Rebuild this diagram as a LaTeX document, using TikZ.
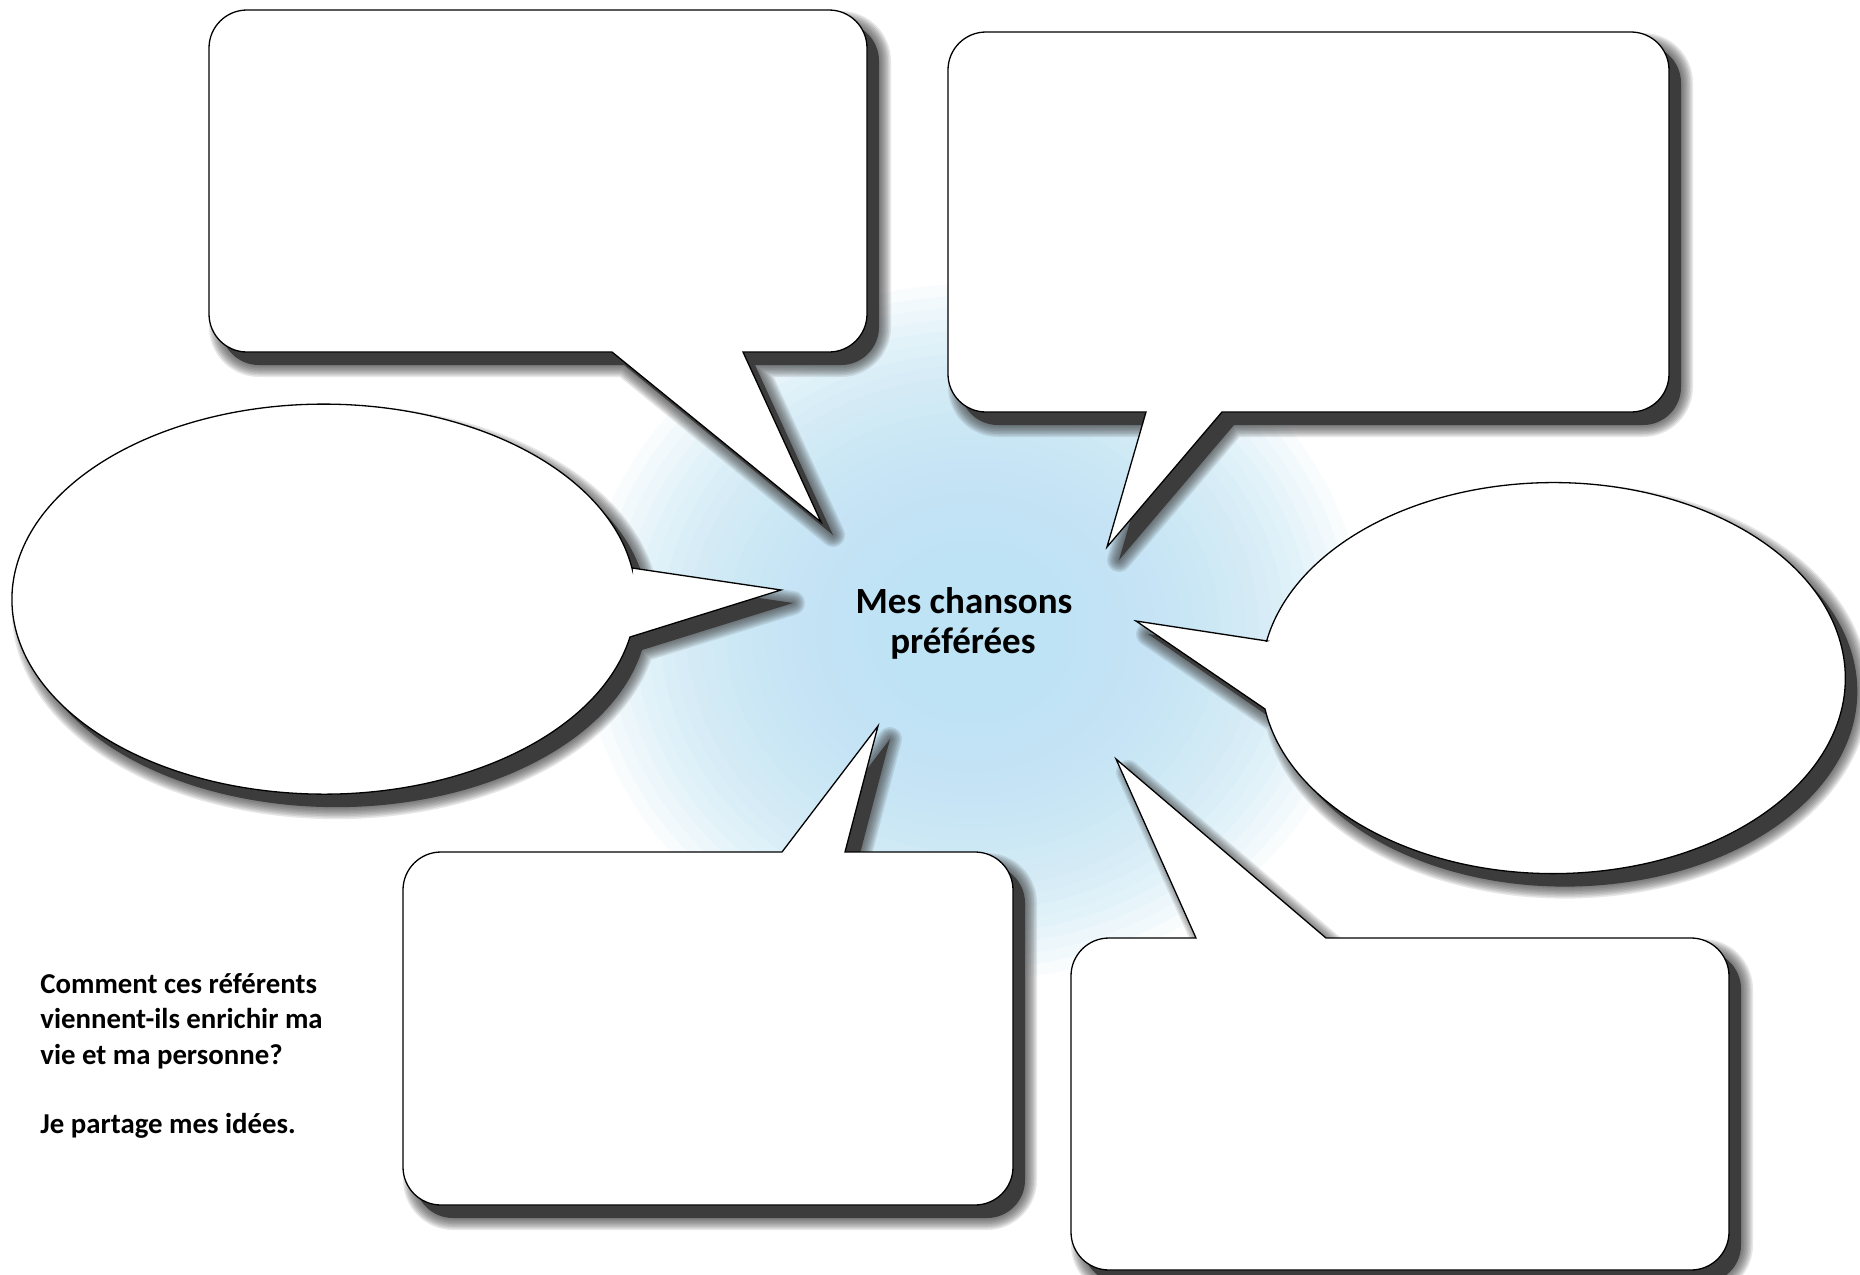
\documentclass[tikz,border=0pt]{standalone}
\usepackage{fontspec}
\setmainfont{Carlito}
\definecolor{glowc}{RGB}{190,227,245}
\definecolor{shadowc}{RGB}{60,60,60}
\tikzset{
  bubble/.style={fill=white, draw=black, line width=0.65pt, line join=miter},
  centertext/.style={anchor=base, inner sep=0pt, font=\bfseries\fontsize{18.5}{20}\selectfont},
  sidetext/.style={anchor=base west, inner sep=0pt, font=\bfseries\fontsize{14.4}{17.5}\selectfont}
}
% outlines of the six bubbles (pixel coordinates, y downwards)
\def\pA{(247,10) -- (829,10) .. controls (850,10) and (867,27) .. (867,48) -- (867,314) .. controls (867,335) and (850,352) .. (829,352) -- (743,352) -- (821,522) -- (612,352) -- (247,352) .. controls (226,352) and (209,335) .. (209,314) -- (209,48) .. controls (209,27) and (226,10) .. (247,10) -- cycle}
\def\pB{(986,32) -- (1631,32) .. controls (1652,32) and (1669,49) .. (1669,70) -- (1669,374) .. controls (1669,395) and (1652,412) .. (1631,412) -- (1222,412) -- (1107,547) -- (1146,412) -- (986,412) .. controls (965,412) and (948,395) .. (948,374) -- (948,70) .. controls (948,49) and (965,32) .. (986,32) -- cycle}
\def\pC{(441,852) -- (782,852) -- (878,726) -- (845,852) -- (975,852) .. controls (996,852) and (1013,869) .. (1013,890) -- (1013,1167) .. controls (1013,1188) and (996,1205) .. (975,1205) -- (441,1205) .. controls (420,1205) and (403,1188) .. (403,1167) -- (403,890) .. controls (403,869) and (420,852) .. (441,852) -- cycle}
\def\pD{(1109,938) -- (1196,938) -- (1116,759) -- (1326,938) -- (1691,938) .. controls (1712,938) and (1729,955) .. (1729,976) -- (1729,1232) .. controls (1729,1253) and (1712,1270) .. (1691,1270) -- (1109,1270) .. controls (1088,1270) and (1071,1253) .. (1071,1232) -- (1071,976) .. controls (1071,955) and (1088,938) .. (1109,938) -- cycle}
\def\pE{(632,568) -- (781,590) -- (630,637) arc[start angle=-11.2, end angle=-350.9, x radius=156pt, y radius=97.5pt] -- cycle}
\def\pF{(1267,641) -- (1136,621) -- (1265,709) arc[start angle=189.1, end angle=529.1, x radius=146pt, y radius=97.75pt] -- cycle}
\newcommand\softshadow[1]{%
  \begin{scope}[shift={(12,13)}]
    \fill[shadowc] #1;
    \foreach \w in {1.5,3,4.5,6,7.5,9,10.5,12}{\draw[shadowc, draw opacity=0.12, line width=\w pt, line join=round] #1;}
  \end{scope}}
\begin{document}
\begin{tikzpicture}[x=0.5pt, y=-0.5pt]
\useasboundingbox (0,0) rectangle (1860,1275);
\fill[white] (0,0) rectangle (1860,1275);
\begin{scope}
\clip (0,0) rectangle (1860,1275);
% central glow
\foreach \i [evaluate=\i as \rx using 6.5*\i, evaluate=\i as \ry using 5.8*\i] in {1,...,30}
  {\fill[glowc, opacity=0.1] (973,632) ellipse[x radius=\rx pt, y radius=\ry pt];}
% shadows
\softshadow{\pA}
\softshadow{\pB}
\softshadow{\pC}
\softshadow{\pD}
\softshadow{\pE}
\softshadow{\pF}
\end{scope}
% bubbles
\path[bubble] \pA;
\path[bubble] \pB;
\path[bubble] \pC;
\path[bubble] \pD;
\path[bubble] \pE;
\path[bubble] \pF;
% texts
\node[centertext] (t1) at (964,613) {Mes chansons};
\node[centertext] (t2) at (963,653) {préférées};
\node[sidetext] (q1) at (40,993) {Comment ces référents};
\node[sidetext] (q2) at (40,1028) {viennent-ils enrichir ma};
\node[sidetext] (q3) at (40,1064) {vie et ma personne?};
\node[sidetext] (q4) at (40,1133) {Je partage mes idées.};
\end{tikzpicture}
\end{document}
